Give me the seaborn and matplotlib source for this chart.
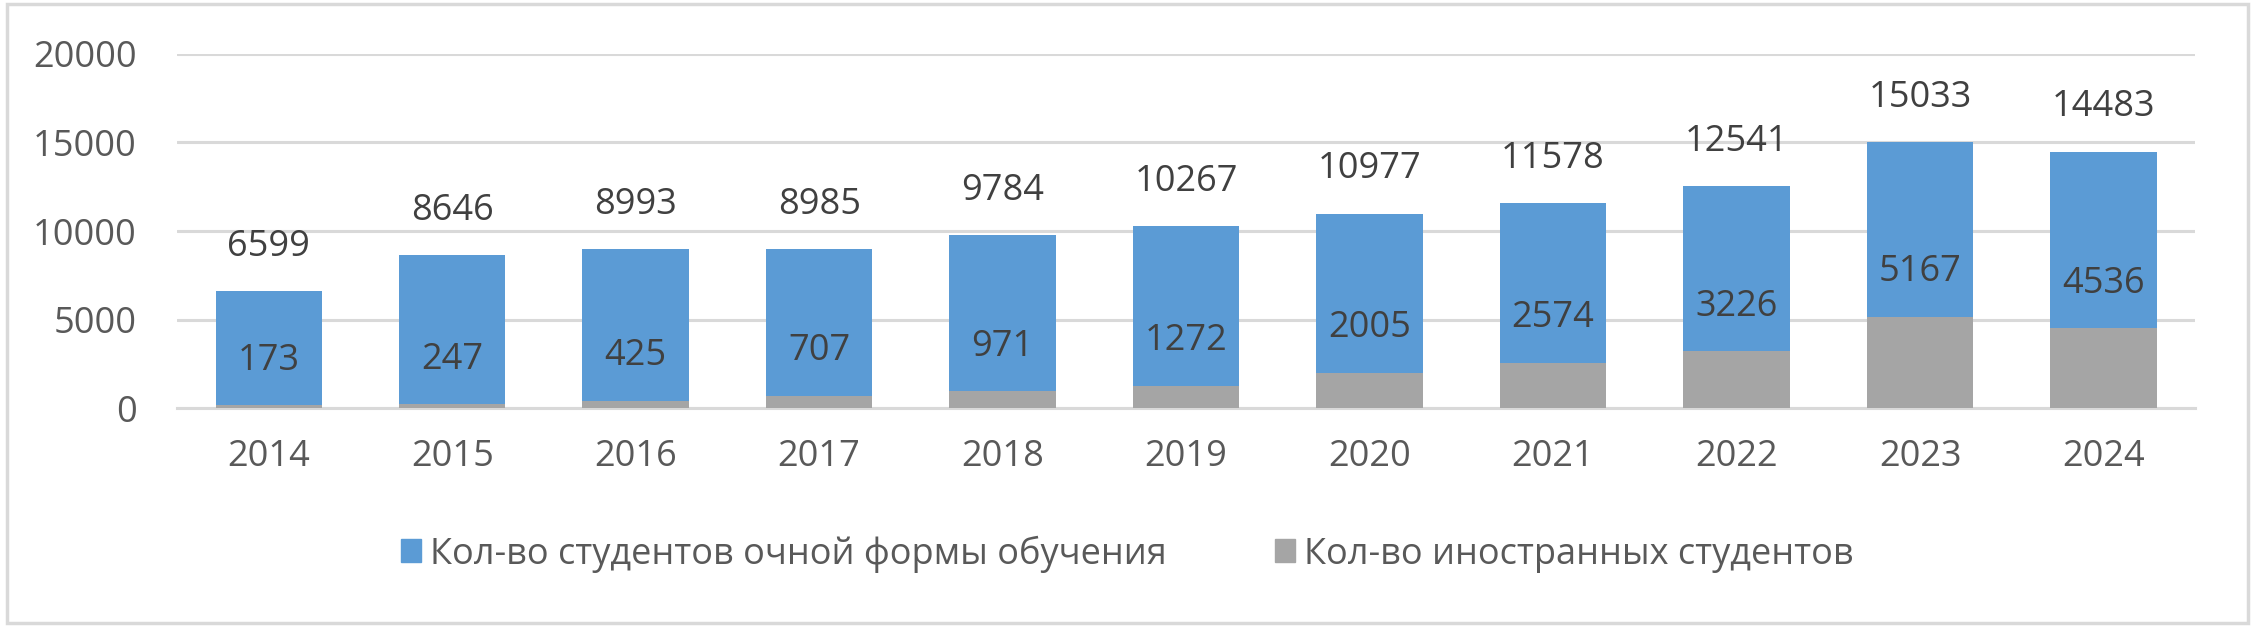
import matplotlib
matplotlib.use("Agg")
import matplotlib.pyplot as plt
import matplotlib.patches as mpatches
import seaborn as sns
import pandas as pd

years = ["2014", "2015", "2016", "2017", "2018", "2019", "2020", "2021", "2022", "2023", "2024"]
total_students = [6599, 8646, 8993, 8985, 9784, 10267, 10977, 11578, 12541, 15033, 14483]
foreign_students = [173, 247, 425, 707, 971, 1272, 2005, 2574, 3226, 5167, 4536]
series_names = ["Кол-во студентов очной формы обучения", "Кол-во иностранных студентов"]
y_ticks = [0, 5000, 10000, 15000, 20000]

df = pd.DataFrame({"year": years, "total": total_students, "foreign": foreign_students})

sns.set_theme(style="white")
plt.rcParams["font.family"] = ["Open Sans", "DejaVu Sans"]

BLUE = "#5B9BD5"
GRAY = "#A5A5A5"
TXT = "#404040"
TICK = "#595959"
GRID = "#D9D9D9"

fig = plt.figure(figsize=(22.55, 6.27), dpi=100)
ax = fig.add_axes([0.0785, 0.349, 0.895, 0.565])

sns.barplot(data=df, x="year", y="total", color=BLUE, width=0.58, ax=ax,
            saturation=1, linewidth=0, edgecolor="none", zorder=2)
sns.barplot(data=df, x="year", y="foreign", color=GRAY, width=0.58, ax=ax,
            saturation=1, linewidth=0, edgecolor="none", zorder=3)

ax.set_ylim(0, 20000)
ax.set_xlim(-0.5, len(years) - 0.5)
ax.set_yticks(y_ticks)
ax.set_yticklabels([str(t) for t in y_ticks])
ax.set_xlabel("")
ax.set_ylabel("")
ax.grid(axis="y", color=GRID, linewidth=2.2, zorder=0)
ax.set_axisbelow(True)
for s in ["left", "right", "top"]:
    ax.spines[s].set_visible(False)
ax.spines["bottom"].set_color(GRID)
ax.spines["bottom"].set_linewidth(2.2)
ax.tick_params(axis="y", length=0, pad=29, labelsize=26, labelcolor=TICK)
ax.tick_params(axis="x", length=0, pad=22, labelsize=26, labelcolor=TICK)

offset = 2500
for i, (t, f) in enumerate(zip(total_students, foreign_students)):
    ax.text(i, t + offset, str(t), ha="center", va="center", fontsize=26, color=TXT, zorder=5)
    ax.text(i, f + offset, str(f), ha="center", va="center", fontsize=26, color=TXT, zorder=5)

handles = [mpatches.Patch(color=BLUE, label=series_names[0]),
           mpatches.Patch(color=GRAY, label=series_names[1])]
fig.legend(handles=handles, loc="center", bbox_to_anchor=(0.5, 1 - 554 / 627), ncol=2,
           frameon=False, fontsize=26, labelcolor=TICK, handlelength=0.55, handleheight=0.6,
           handletextpad=0.25, columnspacing=3.0)

fig.patches.append(mpatches.Rectangle((0.003, 0.006), 0.994, 0.988, transform=fig.transFigure,
                                      fill=False, edgecolor="#D9D9D9", linewidth=2.5))

fig.savefig("out.png", dpi=100)
